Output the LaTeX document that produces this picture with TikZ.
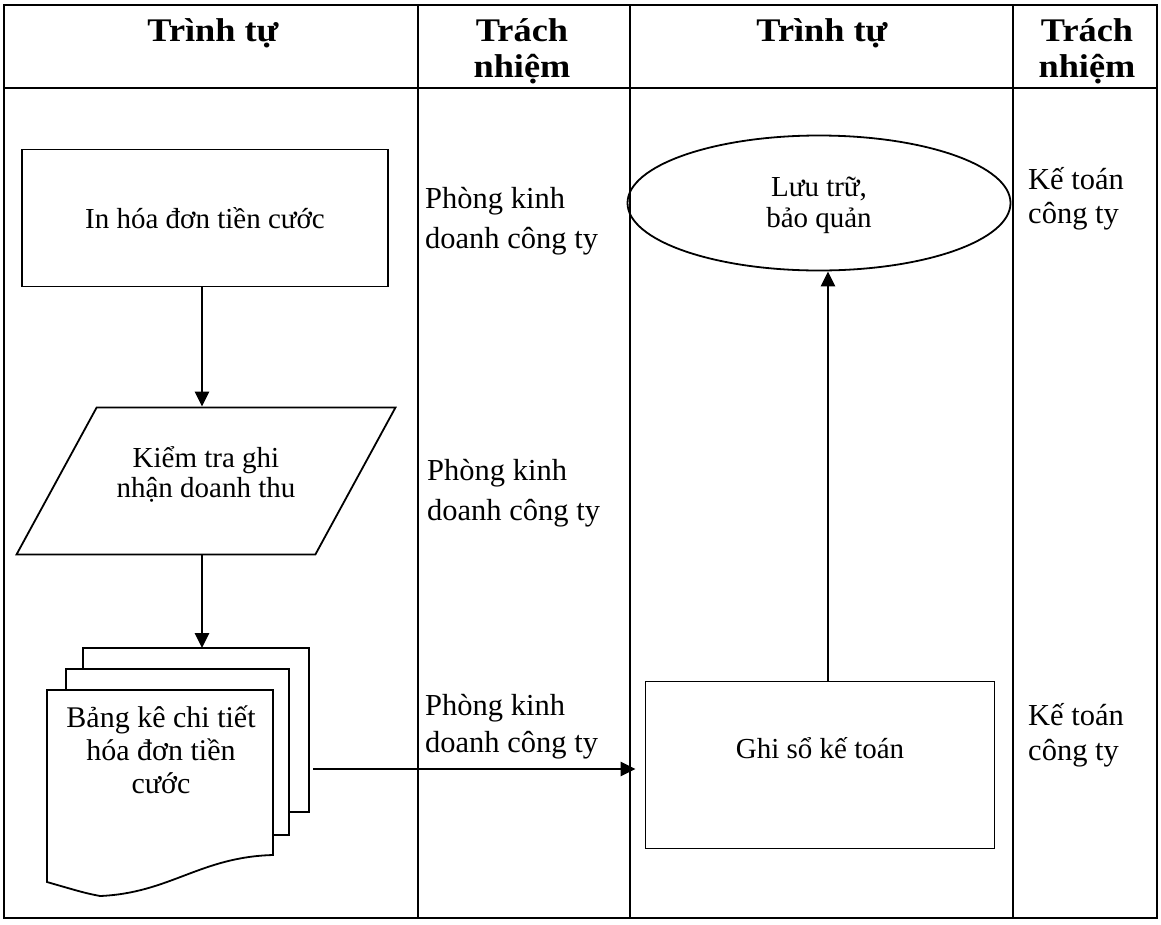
\documentclass[tikz,border=0pt]{standalone}
\usepackage{fontspec}
\setmainfont{Liberation Serif}
\newfontfamily\headfont{Liberation Serif}[FakeStretch=1.1]
\usepackage{tikz}
\usetikzlibrary{shapes.geometric, arrows.meta, positioning}

\begin{document}
\begin{tikzpicture}[x=1pt, y=-1pt,
	grid/.style={line width=2.8pt},
	head/.style={font=\headfont\fontsize{33}{36}\selectfont\bfseries, align=center},
	procbox/.style={draw, line width=1.8pt, inner sep=0pt},
	duty/.style={font=\fontsize{30.5}{36}\selectfont, align=left, anchor=base west, inner sep=0pt},
	body/.style={font=\fontsize{29}{34}\selectfont, align=center},
	flow/.style={line width=2.6pt, -{Triangle[length=15pt, width=14pt]}}]

	\useasboundingbox (0,0) rectangle (1161,924);

	% table
	\draw[grid] (4,5) rectangle (1157,918);
	\draw[grid] (4,88)--(1157,88);
	\draw[grid] (418,5)--(418,918);
	\draw[grid] (630,5)--(630,918);
	\draw[grid] (1013,5)--(1013,918);

	\node[head] (h1) at (213,33) {Trình tự};
	\node[head] (h2) at (522,51) {Trách\\nhiệm};
	\node[head] (h3) at (822,33) {Trình tự};
	\node[head] (h4) at (1087,51) {Trách\\nhiệm};

	% left column
	\node[procbox, body, minimum width=366, minimum height=137] (hoadon) at (205,218) {In hóa đơn tiền cước};
	\node[procbox, trapezium, trapezium left angle=68, trapezium right angle=112,
		trapezium stretches, minimum width=379, minimum height=147,
		label={[body, font=\fontsize{29}{30}\selectfont, yshift=7pt]center:Kiểm tra ghi\\nhận doanh thu}] (kiemtra) at (206,481) {\phantom{X}};

	\def \a {83}
	\def \b {648}
	\draw[line width=1.8pt, fill=white] (\a,\b+21)--(\a,\b)--(\a+226,\b)--(\a+226,\b+164)--(\a+206,\b+164);
	\def \a {66}
	\def \b {669}
	\draw[line width=1.8pt, fill=white] (\a,\b+21)--(\a,\b)--(\a+223,\b)--(\a+223,\b+166)--(\a+207,\b+166);
	\draw[line width=1.8pt, fill=white] (47,690)--(273,690)--(273,855)
		.. controls (200,857) and (170,893) .. (100,896)
		.. controls (85,893) .. (47,882)--cycle;
	\node[body, font=\fontsize{30}{33}\selectfont] (bangke) at (161,750) {Bảng kê chi tiết\\hóa đơn tiền\\cước};
	\coordinate (doctop) at (202,648);
	\coordinate (docout) at (313,769);

	\draw[flow] (hoadon.south -| doctop)--(kiemtra.north -| doctop);
	\draw[flow] (kiemtra.south -| doctop)--(doctop);

	% right column
	\node[procbox, minimum width=349, minimum height=167,
		label={[body, yshift=17pt]center:Ghi sổ kế toán}] (ghiso) at (820,765) {};
	\node[procbox, body, font=\fontsize{29}{31}\selectfont, ellipse, minimum width=383, minimum height=135,
		label={[body, font=\fontsize{29}{31}\selectfont, yshift=-2pt]center:Lưu trữ,\\bảo quản}] (luutru) at (819,203) {};

	\draw[flow, shorten >=9pt] (docout)--(docout -| ghiso.west);
	\draw[flow] (ghiso.north -| 828,0)--(luutru.south -| 828,0);

	% responsibility
	\node[duty] (pk1) at (425,248) {Phòng kinh\\[4pt]doanh công ty};
	\node[duty] (pk2) at (427,520) {Phòng kinh\\[4pt]doanh công ty};
	\node[duty] (pk3) at (425,752) {Phòng kinh\\[1pt]doanh công ty};
	\node[duty] (kt1) at (1028,223) {Kế toán\\[-2pt]công ty};
	\node[duty] (kt2) at (1028,760) {Kế toán\\[-1pt]công ty};

\end{tikzpicture}
\end{document}
